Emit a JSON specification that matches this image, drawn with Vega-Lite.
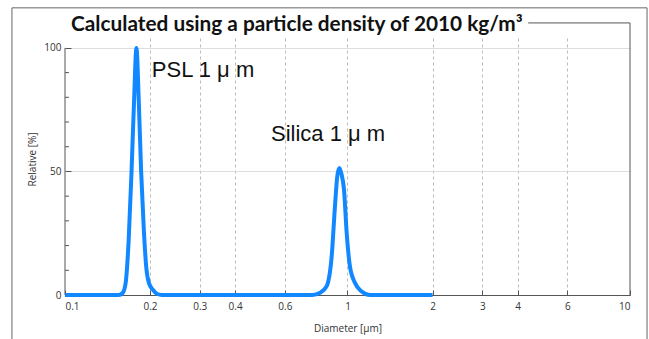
{
  "$schema": "https://vega.github.io/schema/vega-lite/v6.json",
  "width": 565,
  "height": 257,
  "autosize": {"type": "none"},
  "padding": {"left": 65, "top": 38, "right": 19, "bottom": 44},
  "background": "white",
  "config": {"view": {"stroke": null}, "font": "Open Sans"},
  "datasets": {
    "curve": [
      {"d": 0.1, "rel": 0},
      {"d": 0.155, "rel": 0},
      {"d": 0.16, "rel": 0.8},
      {"d": 0.164, "rel": 5},
      {"d": 0.168, "rel": 22},
      {"d": 0.172, "rel": 50},
      {"d": 0.1755, "rel": 78},
      {"d": 0.179, "rel": 100},
      {"d": 0.1825, "rel": 78},
      {"d": 0.186, "rel": 50},
      {"d": 0.19, "rel": 27},
      {"d": 0.194, "rel": 11},
      {"d": 0.198, "rel": 5},
      {"d": 0.205, "rel": 2},
      {"d": 0.212, "rel": 0.4},
      {"d": 0.22, "rel": 0},
      {"d": 0.75, "rel": 0},
      {"d": 0.8, "rel": 0.9},
      {"d": 0.844, "rel": 3.6},
      {"d": 0.879, "rel": 15.7},
      {"d": 0.903, "rel": 36},
      {"d": 0.92, "rel": 48},
      {"d": 0.935, "rel": 51.4},
      {"d": 0.952, "rel": 49},
      {"d": 0.972, "rel": 42.6},
      {"d": 0.9935, "rel": 25},
      {"d": 1.02, "rel": 11.6},
      {"d": 1.063, "rel": 4.9},
      {"d": 1.12, "rel": 1.5},
      {"d": 1.2, "rel": 0},
      {"d": 2.0, "rel": 0}
    ],
    "minor": [
      {"v": 10}, {"v": 20}, {"v": 30}, {"v": 40},
      {"v": 60}, {"v": 70}, {"v": 80}, {"v": 90}
    ],
    "one": [{}]
  },
  "layer": [
    {
      "data": {"name": "curve"},
      "mark": {"type": "line", "color": "#1188ff", "strokeWidth": 4, "interpolate": "monotone", "strokeJoin": "round"},
      "encoding": {
        "x": {
          "field": "d",
          "type": "quantitative",
          "scale": {"type": "log", "domain": [0.1, 10], "nice": false},
          "axis": {
            "values": [0.1, 0.2, 0.3, 0.4, 0.6, 1, 2, 3, 4, 6, 10],
            "format": "~g",
            "labelOverlap": false,
            "domainColor": "#555",
            "tickColor": "#555",
            "tickSize": -5,
            "labelPadding": 11,
            "labelFontSize": 10,
            "labelColor": "#333",
            "grid": true,
            "gridColor": "#bbbbbb",
            "gridDash": [3, 3],
            "gridOpacity": {"condition": {"test": "datum.value > 0.15 && datum.value < 9", "value": 1}, "value": 0},
            "title": "Diameter [μm]",
            "titleFontSize": 10,
            "titleFontWeight": "normal",
            "titleColor": "#333",
            "titleY": 33,
            "titleBaseline": "middle"
          }
        },
        "y": {
          "field": "rel",
          "type": "quantitative",
          "scale": {"domain": [0, 104], "nice": false},
          "axis": {
            "values": [0, 50, 100],
            "format": "d",
            "labelOverlap": false,
            "domain": false,
            "tickColor": "#555",
            "tickSize": -6,
            "labelPadding": 10,
            "labelFontSize": 10,
            "labelColor": "#333",
            "grid": true,
            "gridColor": "#dddddd",
            "title": "Relative [%]",
            "titleFontSize": 10,
            "titleFontWeight": "normal",
            "titleColor": "#333",
            "titleX": -33,
            "titleY": 121,
            "titleAngle": -90,
            "titleAlign": "center",
            "titleBaseline": "middle"
          }
        }
      }
    },
    {
      "data": {"name": "minor"},
      "mark": {"type": "rule", "color": "#555", "strokeWidth": 1},
      "encoding": {"x": {"datum": 0.1}, "x2": {"datum": 0.1033}, "y": {"field": "v", "type": "quantitative"}}
    },
    {
      "data": {"name": "one"},
      "mark": {"type": "rule", "color": "#555", "strokeWidth": 1},
      "encoding": {"x": {"datum": 0.1}, "y": {"datum": 0}, "y2": {"datum": 100}}
    },
    {
      "data": {"name": "one"},
      "mark": {"type": "rule", "color": "#555", "strokeWidth": 1},
      "encoding": {"x": {"datum": 10}, "y": {"datum": 0}, "y2": {"datum": 110.1}}
    },
    {
      "data": {"name": "one"},
      "mark": {"type": "rule", "color": "#555", "strokeWidth": 1},
      "encoding": {"x": {"datum": 4.36}, "x2": {"datum": 10}, "y": {"datum": 110.1}}
    },
    {
      "data": {"name": "one"},
      "mark": {"type": "rule", "color": "#666", "strokeWidth": 1},
      "encoding": {"x": {"datum": 0.0649}, "y": {"datum": -20}, "y2": {"datum": 116.2}}
    },
    {
      "data": {"name": "one"},
      "mark": {"type": "rule", "color": "#666", "strokeWidth": 1},
      "encoding": {"x": {"datum": 11.49}, "y": {"datum": -20}, "y2": {"datum": 116.2}}
    },
    {
      "data": {"name": "one"},
      "mark": {"type": "rule", "color": "#666", "strokeWidth": 1},
      "encoding": {"x": {"datum": 0.0649}, "x2": {"datum": 11.49}, "y": {"datum": 116.2}}
    },
    {
      "data": {"name": "one"},
      "mark": {"type": "text", "align": "left", "baseline": "alphabetic", "font": "Lato", "fontWeight": "bold", "fontSize": 20.8, "color": "#111"},
      "encoding": {"x": {"datum": 0.105}, "y": {"datum": 106.9}, "text": {"value": "Calculated using a particle density of 2010 kg/m³"}}
    },
    {
      "data": {"name": "one"},
      "mark": {"type": "text", "align": "left", "baseline": "alphabetic", "font": "Liberation Sans", "fontSize": 22, "color": "#111"},
      "encoding": {"x": {"datum": 0.203}, "y": {"datum": 88.3}, "text": {"value": "PSL 1 μ m"}}
    },
    {
      "data": {"name": "one"},
      "mark": {"type": "text", "align": "left", "baseline": "alphabetic", "font": "Liberation Sans", "fontSize": 22, "color": "#111"},
      "encoding": {"x": {"datum": 0.536}, "y": {"datum": 62.2}, "text": {"value": "Silica 1  μ m"}}
    }
  ]
}
